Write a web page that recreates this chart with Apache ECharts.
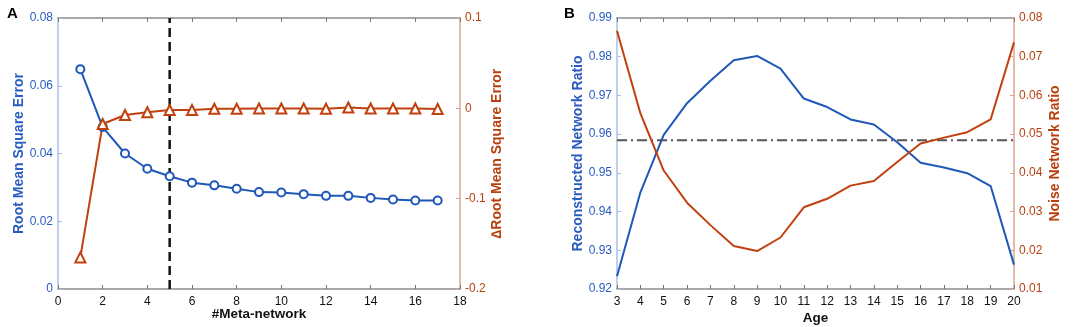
<!DOCTYPE html>
<html>
<head>
<meta charset="utf-8">
<script src="https://cdn.jsdelivr.net/npm/echarts@6/dist/echarts.min.js"></script>
<style>
  html, body { margin: 0; padding: 0; background: #fff; }
  #main { width: 1084px; height: 327px; }
</style>
</head>
<body>
<div id="main"></div>
<script>
// panel A
var metaX = [1, 2, 3, 4, 5, 6, 7, 8, 9, 10, 11, 12, 13, 14, 15, 16, 17];
var rmse = [0.0649, 0.0478, 0.0400, 0.0355, 0.0333, 0.0314, 0.0306, 0.0296, 0.0286, 0.0285, 0.0280, 0.0275, 0.0275, 0.0269, 0.0264, 0.0261, 0.0261];
var deltaRmse = [-0.165, -0.0174, -0.0074, -0.0044, -0.0018, -0.0018, -0.0004, -0.0004, -0.0002, -0.0002, -0.0002, -0.0004, 0.0010, -0.0002, -0.0002, -0.0002, -0.0008];
var chosenMeta = 5;

// panel B
var ages = [3, 4, 5, 6, 7, 8, 9, 10, 11, 12, 13, 14, 15, 16, 17, 18, 19, 20];
var reconRatio = [0.9233, 0.9449, 0.9598, 0.9680, 0.9738, 0.9791, 0.9802, 0.9769, 0.9692, 0.9670, 0.9638, 0.9625, 0.9579, 0.9526, 0.9514, 0.9499, 0.9466, 0.9263];
var noiseRatio = [0.0767, 0.0554, 0.0406, 0.0323, 0.0265, 0.0211, 0.0198, 0.0233, 0.0311, 0.0333, 0.0367, 0.0379, 0.0428, 0.0476, 0.0491, 0.0505, 0.0538, 0.0737];
var reconMean = 0.9584;

var BLUE = '#1f58b8';
var RED = '#c2400e';
var BLUE_TXT = '#2a5cc0';
var RED_TXT = '#b8400f';
var FONT = 'Liberation Sans, Arial, sans-serif';

function pairs(xs, ys) {
  return xs.map(function (x, i) { return [x, ys[i]]; });
}

function xAx(grid, min, max, interval, name, gap) {
  return {
    type: 'value', gridIndex: grid, min: min, max: max, interval: interval,
    name: name, nameLocation: 'middle', nameGap: gap, nameMoveOverlap: false,
    nameTextStyle: { fontFamily: FONT, fontSize: 13.5, fontWeight: 'bold', color: '#111' },
    axisLine: { onZero: false, lineStyle: { color: '#8c8c8c', width: 1.5 } },
    axisTick: { inside: true, length: 4, lineStyle: { color: '#777' } },
    axisLabel: { fontFamily: FONT, fontSize: 12, color: '#111', margin: 7 },
    splitLine: { show: false }
  };
}
function xTop(grid, min, max, interval) {
  return {
    type: 'value', gridIndex: grid, position: 'top', min: min, max: max, interval: interval,
    axisLine: { onZero: false, lineStyle: { color: '#8c8c8c', width: 1.5 } },
    axisTick: { inside: true, length: 4, lineStyle: { color: '#777' } },
    axisLabel: { show: false }, splitLine: { show: false }
  };
}
function yAx(grid, pos, min, max, interval, name, gap, lineCol, txtCol, fmt) {
  return {
    type: 'value', gridIndex: grid, position: pos, min: min, max: max, interval: interval,
    name: name, nameLocation: 'middle', nameGap: gap,
    nameTextStyle: { fontFamily: FONT, fontSize: 14, fontWeight: 'bold', color: txtCol },
    axisLine: { show: true, onZero: false, lineStyle: { color: lineCol, width: 1.5 } },
    axisTick: { show: true, inside: true, length: 4, lineStyle: { color: lineCol } },
    axisLabel: { fontFamily: FONT, fontSize: 12, color: txtCol, margin: 5, formatter: fmt },
    splitLine: { show: false }
  };
}

var chart = echarts.init(document.getElementById('main'));
var option = {
  animation: false,
  title: [
    { text: 'A', left: 2, top: 1, textStyle: { fontFamily: FONT, fontSize: 15, fontWeight: 'bold', color: '#000' } },
    { text: 'B', left: 559, top: 1, textStyle: { fontFamily: FONT, fontSize: 15, fontWeight: 'bold', color: '#000' } }
  ],
  grid: [
    { left: 58, right: 624, top: 18, bottom: 38, outerBoundsMode: 'none' },
    { left: 617, right: 70, top: 18, bottom: 38, outerBoundsMode: 'none' }
  ],
  xAxis: [
    xAx(0, 0, 18, 2, '#Meta-network', 18),
    xTop(0, 0, 18, 2),
    xAx(1, 3, 20, 1, 'Age', 22),
    xTop(1, 3, 20, 1)
  ],
  yAxis: [
    yAx(0, 'left', 0, 0.08, 0.02, 'Root Mean Square Error', 29, '#a9c0e6', BLUE_TXT,
      function (v) { return v === 0 ? '0' : v.toFixed(2); }),
    yAx(0, 'right', -0.2, 0.1, 0.1, '\u2206Root Mean Square Error', 30, '#d9a48f', RED_TXT,
      function (v) { return Math.abs(v) < 1e-9 ? '0' : v.toFixed(1); }),
    yAx(1, 'left', 0.92, 0.99, 0.01, 'Reconstructed Network Ratio', 28, '#a9c0e6', BLUE_TXT,
      function (v) { return v.toFixed(2); }),
    yAx(1, 'right', 0.01, 0.08, 0.01, 'Noise Network Ratio', 34, '#d9a48f', RED_TXT,
      function (v) { return v.toFixed(2); })
  ],
  series: [
    {
      // vertical guide at the chosen number of meta-networks
      type: 'line', xAxisIndex: 0, yAxisIndex: 0,
      data: [[chosenMeta, 0], [chosenMeta, 0.08]],
      symbol: 'none', silent: true,
      lineStyle: { color: '#111', type: [9, 5], width: 2.5 }
    },
    {
      type: 'line', xAxisIndex: 0, yAxisIndex: 0, data: pairs(metaX, rmse),
      symbol: 'emptyCircle', symbolSize: 8,
      lineStyle: { color: BLUE, width: 2 }, itemStyle: { color: BLUE, borderWidth: 2 }
    },
    {
      type: 'line', xAxisIndex: 0, yAxisIndex: 1, data: pairs(metaX, deltaRmse),
      symbol: 'emptyTriangle', symbolSize: 10,
      lineStyle: { color: RED, width: 2 }, itemStyle: { color: RED, borderWidth: 2 }
    },
    {
      // mean reconstructed ratio
      type: 'line', xAxisIndex: 2, yAxisIndex: 2,
      data: [[3, reconMean], [20, reconMean]],
      symbol: 'none', silent: true,
      lineStyle: { color: '#555', type: [10, 4, 2, 4], width: 2 }
    },
    {
      type: 'line', xAxisIndex: 2, yAxisIndex: 2, data: pairs(ages, reconRatio),
      symbol: 'none', lineStyle: { color: BLUE, width: 2 }
    },
    {
      type: 'line', xAxisIndex: 2, yAxisIndex: 3, data: pairs(ages, noiseRatio),
      symbol: 'none', lineStyle: { color: RED, width: 2 }
    }
  ]
};
chart.setOption(option);
window.addEventListener('resize', function () {
  chart.resize();
});
</script>
</body>
</html>
